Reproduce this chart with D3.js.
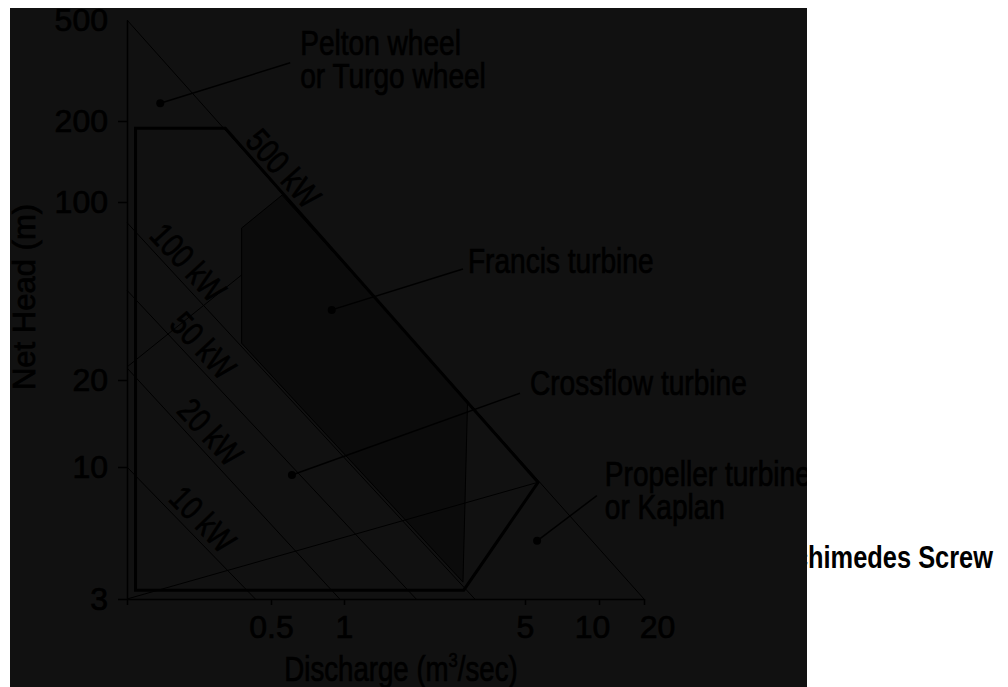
<!DOCTYPE html>
<html lang="en">
<head>
<meta charset="utf-8">
<title>Turbine application chart</title>
<script src="https://cdnjs.cloudflare.com/ajax/libs/d3/7.8.5/d3.min.js"></script>
<style>
    html, body { margin: 0; padding: 0; background: #fff; }
    svg { display: block; }
    text { font-family: "Liberation Sans", Arial, sans-serif; fill: #000; }
    .panel text { stroke: #000; stroke-width: 0.7px; }
</style>
</head>
<body>
<script>
    // axis ticks (0.1 is the unlabelled left end of the flow axis)
    var flowTicks = [0.1, 0.5, 1, 5, 10, 20];
    var headTicks = [3, 10, 20, 100, 200, 500];

    // constant power lines: head where they leave the left edge, flow where they reach the bottom
    var powerNames = ["500 kW", "100 kW", "50 kW", "20 kW", "10 kW"];
    var powerHeadStart = [500, 83, 45, 22.3, 10];
    var powerFlowEnd = [20, 3.2, 1.9, 0.96, 0.42];

    // thick outline
    var rangeFlow = [0.11, 0.30, 5.65, 2.9, 0.11];
    var rangeHead = [188, 188, 8.7, 3.25, 3.25];

    // francis turbine area
    var francisFlow = [0.36, 0.555, 3.0, 2.88, 0.36];
    var francisHead = [79, 106, 16.9, 3.5, 27.9];

    // crossflow boundaries
    var crossUpperFlow = [0.1, 0.36];
    var crossUpperHead = [22.5, 51.7];
    var crossLowerFlow = [0.1, 5.65];
    var crossLowerHead = [3, 8.7];

    // annotations: dot, then end of the leader line
    var noteNames = [["Pelton wheel", "or Turgo wheel"], ["Francis turbine"], ["Crossflow turbine"], ["Propeller turbine", "or Kaplan"]];
    var noteDotFlow = [0.145, 0.89, 0.61, 5.6];
    var noteDotHead = [235, 37.7, 9.3, 5.1];
    var noteEndFlow = [0.60, 2.88, 4.78, 9.8];
    var noteEndHead = [339, 54.6, 18.0, 7.7];

    // layout only
    var noteDx = [10, 5, 10, 8];
    var noteDy = [-8, 4, 2, -10];
    var powerLabelAt = [0.277, 0.138, 0.218, 0.33, 0.49];
    var flowLabelShift = { 10: -7, 20: 13 };

    var width = 1008, height = 687;
    var panel = { x: 10, y: 8, w: 797, h: 679 };

    // the source axes are hand drawn, so the log scales are piecewise
    var xScale = d3.scaleLog()
        .domain(flowTicks)
        .range([127, 271, 344, 525, 599, 644]);
    var yScale = d3.scaleLog()
        .domain(headTicks)
        .range([599, 467, 380, 202, 121, 20]);

    var svg = d3.select('body')
        .append('svg')
        .attr('width', width)
        .attr('height', height);

    // condensed text helper
    function label(g, str, x, y, size, sx, anchor, angle) {
        var t = g.append('g')
            .attr('transform', 'translate(' + x + ',' + y + ') rotate(' + (angle || 0) + ') scale(' + sx + ',1)')
            .append('text')
            .attr('text-anchor', anchor || 'start')
            .attr('font-size', size)
            .text(str);
        return t;
    }

    // label sitting on the white page, partly covered by the chart image
    label(svg, "Archimedes Screw", 993, 568, 31, 0.82, 'end').attr('font-weight', 'bold');

    svg.append('clipPath').attr('id', 'panelClip')
        .append('rect')
        .attr('x', panel.x).attr('y', panel.y)
        .attr('width', panel.w).attr('height', panel.h);

    var g = svg.append('g')
        .attr('class', 'panel')
        .attr('clip-path', 'url(#panelClip)');
    g.append('rect')
        .attr('x', panel.x).attr('y', panel.y)
        .attr('width', panel.w).attr('height', panel.h)
        .attr('fill', '#111111');

    function pts(fl, hd) {
        return fl.map(function (q, i) { return [xScale(q), yScale(hd[i])]; });
    }
    var line = d3.line();

    // francis area
    g.append('path')
        .attr('d', line(pts(francisFlow, francisHead)) + 'Z')
        .attr('fill', '#0b0b0b')
        .attr('stroke', '#000')
        .attr('stroke-width', 1);

    // power lines
    var powerLines = powerNames.map(function (name, i) {
        return [[xScale(flowTicks[0]), yScale(powerHeadStart[i])], [xScale(powerFlowEnd[i]), yScale(headTicks[0])]];
    });
    g.selectAll('path.power')
        .data(powerLines)
        .enter()
        .append('path')
        .attr('class', 'power')
        .attr('d', function (d) { return line(d); })
        .attr('fill', 'none')
        .attr('stroke', '#000')
        .attr('stroke-width', 1);

    // crossflow boundaries
    [pts(crossUpperFlow, crossUpperHead), pts(crossLowerFlow, crossLowerHead)].forEach(function (p) {
        g.append('path')
            .attr('d', line(p))
            .attr('fill', 'none')
            .attr('stroke', '#000')
            .attr('stroke-width', 1);
    });

    // thick outline
    g.append('path')
        .attr('d', line(pts(rangeFlow, rangeHead)) + 'Z')
        .attr('fill', 'none')
        .attr('stroke', '#000')
        .attr('stroke-width', 3)
        .attr('stroke-linejoin', 'miter');

    // power labels along their lines
    powerLines.forEach(function (d, i) {
        var t = powerLabelAt[i];
        var x = d[0][0] + (d[1][0] - d[0][0]) * t;
        var y = d[0][1] + (d[1][1] - d[0][1]) * t;
        var a = Math.atan2(d[1][1] - d[0][1], d[1][0] - d[0][0]) * 180 / Math.PI;
        label(g, powerNames[i], x, y, 34, 0.8, 'middle', a).attr('y', -6);
    });

    // annotations
    noteNames.forEach(function (lines, i) {
        var x0 = xScale(noteDotFlow[i]), y0 = yScale(noteDotHead[i]);
        var x1 = xScale(noteEndFlow[i]), y1 = yScale(noteEndHead[i]);
        g.append('line')
            .attr('x1', x0).attr('y1', y0)
            .attr('x2', x1).attr('y2', y1)
            .attr('stroke', '#000')
            .attr('stroke-width', 1.5);
        g.append('circle')
            .attr('cx', x0).attr('cy', y0)
            .attr('r', 4)
            .attr('fill', '#000');
        lines.forEach(function (s, k) {
            label(g, s, x1 + noteDx[i], y1 + noteDy[i] + k * 33, 36, 0.78, 'start');
        });
    });

    // axes
    var xAxis = d3.axisBottom(xScale)
        .tickValues(flowTicks)
        .tickFormat(function (d) { return d === flowTicks[0] ? '' : d; })
        .tickSize(6)
        .tickSizeOuter(0)
        .tickPadding(10);
    var yAxis = d3.axisLeft(yScale)
        .tickValues(headTicks)
        .tickFormat(function (d) { return d; })
        .tickSize(9)
        .tickSizeOuter(0)
        .tickPadding(10);

    var gx = g.append('g')
        .attr('transform', 'translate(0,' + yScale(headTicks[0]) + ')')
        .call(xAxis);
    var gy = g.append('g')
        .attr('transform', 'translate(' + xScale(flowTicks[0]) + ',0)')
        .call(yAxis);
    [gx, gy].forEach(function (a) {
        a.attr('font-family', null).attr('font-size', null);
        a.select('.domain').attr('stroke', '#000').attr('stroke-width', 1.5);
        a.selectAll('.tick line').attr('stroke', '#000').attr('stroke-width', 1.5);
        a.selectAll('.tick text').attr('font-size', 32).attr('fill', '#000');
    });
    gx.selectAll('.tick text').attr('dx', function (d) { return flowLabelShift[d] || 0; });
    gy.selectAll('.tick line').filter(function (d) { return d === 500; }).remove();

    // axis titles
    label(g, "Net Head (m)", 35, 297, 31, 1, 'middle', -90);
    var xt = label(g, "Discharge (m", 401, 681, 35, 0.79, 'middle');
    xt.append('tspan').attr('font-size', 21).attr('dy', -14).text('3');
    xt.append('tspan').attr('dy', 14).text('/sec)');
</script>
</body>
</html>
